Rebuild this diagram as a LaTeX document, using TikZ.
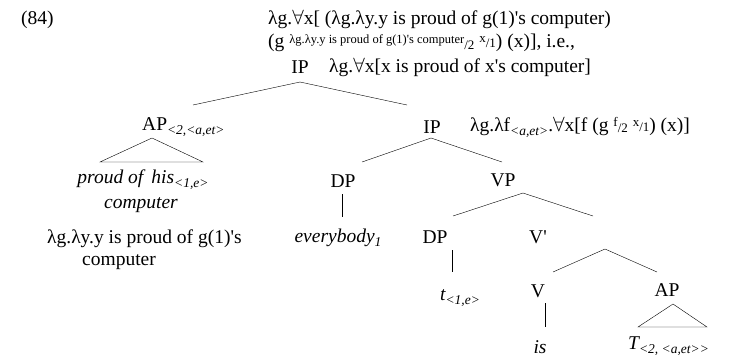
\documentclass[tikz,border=0pt]{standalone}
\usepackage{fontspec}
\setmainfont{Liberation Serif}[Ligatures=TeXOff]
\usepackage{amssymb}
\newcommand{\lsub}[1]{\raisebox{-4pt}{\fontsize{13.5}{15}\selectfont\itshape #1}}
\newcommand{\lsup}[1]{\raisebox{5pt}{\fontsize{13}{14}\selectfont #1}}
\newcommand{\lsml}[1]{{\fontsize{13}{14}\selectfont #1}}
\newcommand{\lfa}{\ensuremath{\forall}}

\begin{document}
\begin{tikzpicture}[x=1pt, y=-1pt, every node/.style={font=\fontsize{19.5}{23}\selectfont, inner sep=0pt}]
	\useasboundingbox (0,0) rectangle (731,360);
	% top: example number and the meaning of the whole tree
	\node[anchor=west] (ex) at (21,20) {(84)};
	\node[anchor=west] (sem1) at (268,19) {λg.\lfa x[ (λg.λy.y is proud of g(1)'s computer)};
	\node[anchor=west] (sem2) at (268,43) {(g \raisebox{4pt}{\fontsize{12.5}{13}\selectfont λg.λy.y is proud of g(1)'s computer}\raisebox{-2pt}{\lsml{/2}} \lsup{x}\lsml{/1}) (x)], i.e.,};
	\node (ip) at (300,67) {IP};
	\node[anchor=west] (ipsem) at (329,67) {λg.\lfa x[x is proud of x's computer]};
	% left daughter
	\node[anchor=west] (ap) at (142,127) {AP\lsub{<2,<a,et>}};
	\node (lex) at (143,180) {\itshape proud of\, his\lsub{<1,e>}};
	\node (lex2) at (141,205) {\itshape computer};
	\node[anchor=west] (apsem1) at (47,239) {λg.λy.y is proud of g(1)'s};
	\node[anchor=west] (apsem2) at (82,262) {computer};
	% right daughter
	\node (ipb) at (432,127) {IP};
	\node[anchor=west] (ipbsem) at (470,127) {λg.λf\lsub{<a,et>}.\lfa x[f (g \lsup{f}\raisebox{-1pt}{\lsml{/2}} \lsup{x}\lsml{/1}) (x)]};
	\node (dp) at (343,181) {DP};
	\node (every) at (338,238) {\itshape everybody\lsub{1}};
	\node (vp) at (503,180) {VP};
	\node (dpt) at (435,237) {DP};
	\node (trace) at (460,298) {\itshape t\lsub{<1,e>}};
	\node (vbar) at (538,237) {V'};
	\node (v) at (538,291) {V};
	\node (is) at (540,347) {\itshape is};
	\node (apt) at (667,290) {AP};
	\node[anchor=west] (tvar) at (628,346) {\itshape T\lsub{<2, <a,et>>}};
	% branch points
	\coordinate (top) at (300,82);
	\coordinate (topl) at (193,105);
	\coordinate (topr) at (407,105);
	\coordinate (ipbt) at (431,138);
	\coordinate (ipbl) at (362,162);
	\coordinate (ipbr) at (502,162);
	\coordinate (vpt) at (523,193);
	\coordinate (vpl) at (453,216);
	\coordinate (vpr) at (593,216);
	\coordinate (vbart) at (605,249);
	\coordinate (vbarl) at (553,272);
	\coordinate (vbarr) at (657,272);
	\draw (topl) -- (top) -- (topr);
	\draw (ipbl) -- (ipbt) -- (ipbr);
	\draw (vpl) -- (vpt) -- (vpr);
	\draw (vbarl) -- (vbart) -- (vbarr);
	\draw (342,194) coordinate (dpa) -- (342,217) coordinate (dpb);
	\draw (452,250) coordinate (dpta) -- (452,272) coordinate (dptb);
	\draw (545,303) coordinate (va) -- (545,327) coordinate (vb);
	% roofs
	\draw (152,138) coordinate (roofa) -- (100,162) -- (203,162) -- cycle;
	\draw (673,304) coordinate (roofb) -- (638,327) -- (707,327) -- cycle;
\end{tikzpicture}
\end{document}
